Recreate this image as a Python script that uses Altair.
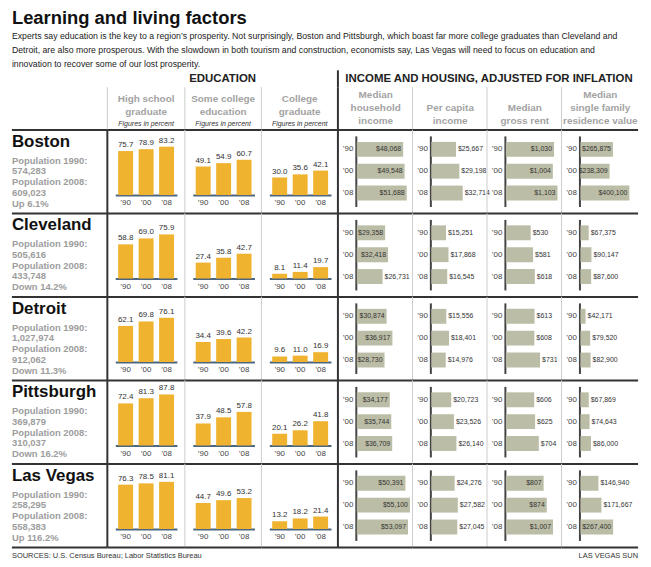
import altair as alt
import pandas as pd

# ---------------- data ----------------
title_text = "Learning and living factors"
intro_lines = [
    "Experts say education is the key to a region’s prosperity. Not surprisingly, Boston and Pittsburgh, which boast far more college graduates than Cleveland and",
    "Detroit, are also more prosperous. With the slowdown in both tourism and construction, economists say, Las Vegas will need to focus on education and",
    "innovation to recover some of our lost prosperity.",
]
section_titles = ["EDUCATION", "INCOME AND HOUSING, ADJUSTED FOR INFLATION"]
edu_headers = [["High school", "graduate"], ["Some college", "education"], ["College", "graduate"]]
edu_note = "Figures in percent"
inc_headers = [["Median", "household", "income"], ["Per capita", "income"],
               ["Median", "gross rent"], ["Median", "single family", "residence value"]]

cities = ["Boston", "Cleveland", "Detroit", "Pittsburgh", "Las Vegas"]
pop_1990 = [574283, 505616, 1027974, 369879, 258295]
pop_2008 = [609023, 433748, 912062, 310037, 558383]
pop_change = [6.1, -14.2, -11.3, -16.2, 116.2]
years = ["’90", "’00", "’08"]

hs_grad = [[75.7, 78.9, 83.2], [58.8, 69.0, 75.9], [62.1, 69.8, 76.1], [72.4, 81.3, 87.8], [76.3, 78.5, 81.1]]
some_college = [[49.1, 54.9, 60.7], [27.4, 35.8, 42.7], [34.4, 39.6, 42.2], [37.9, 48.5, 57.8], [44.7, 49.6, 53.2]]
college_grad = [[30.0, 35.6, 42.1], [8.1, 11.4, 19.7], [9.6, 11.0, 16.9], [20.1, 26.2, 41.8], [13.2, 18.2, 21.4]]

household_income = [[48068, 49548, 51688], [29358, 32418, 26731], [30874, 36917, 28730],
                     [34177, 35744, 36709], [50391, 55100, 53097]]
per_capita_income = [[25667, 29198, 32714], [15251, 17868, 16545], [15556, 18401, 14976],
                     [20723, 23526, 26140], [24276, 27582, 27045]]
gross_rent = [[1030, 1004, 1103], [530, 581, 618], [613, 608, 731], [606, 625, 704], [807, 874, 1007]]
residence_value = [[265875, 238309, 400100], [67375, 90147, 87600], [42171, 79520, 82900],
                   [67869, 74643, 86000], [146940, 171667, 267400]]

source_text = "SOURCES: U.S. Census Bureau; Labor Statistics Bureau"
credit_text = "LAS VEGAS SUN"

# ---------------- style ----------------
SANS = "Liberation Sans, Arial, sans-serif"
GOLD = "#efb330"
KHAKI = "#bcbda6"
DARK = "#333333"
LIGHT = "#cccccc"
EDU_BASE = "#4d6680"
GRAY_TXT = "#a3a3a3"

W_CITY = 96
W_EDU = [78, 77, 77]
W_INC = [75, 75, 75, 77]
WIDTHS = [W_CITY] + W_EDU + W_INC
W_ALL = sum(WIDTHS)
H_TITLE, H_SEC, H_HEAD, H_ROW, H_FOOT = 68, 17, 43, 84, 18
BASE = 65.5  # baseline of education bars inside a row

one = pd.DataFrame({"k": [0]})


def hline(w, color=DARK, width=2):
    return alt.Chart(one).mark_rule(color=color, strokeWidth=width).encode(
        x=alt.value(0), x2=alt.value(w), y=alt.value(0))


def vline(h, color=LIGHT, width=1):
    return alt.Chart(one).mark_rule(color=color, strokeWidth=width).encode(
        x=alt.value(0), y=alt.value(0), y2=alt.value(h))


def label(text, x, y, **kw):
    kw.setdefault("baseline", "middle")
    kw.setdefault("font", SANS)
    return alt.Chart(one).mark_text(**kw).encode(
        x=alt.value(x), y=alt.value(y), text=alt.value(text))


def panel(layers, w, h):
    if not layers:
        layers = [label("", w / 2, h / 2, fontSize=1)]
    return alt.layer(*layers).properties(width=w, height=h)


panels = []

# ---------------- row: title ----------------
t_layers = [label(title_text, 0, 15, align="left", fontSize=18.5,
                  fontWeight="bold", color="#111")]
for j, line in enumerate(intro_lines):
    t_layers.append(label(line, 0, 33 + j * 14.5, align="left", fontSize=8.8, color="#222"))
panels.append(panel(t_layers, W_CITY, H_TITLE))
for w in WIDTHS[1:]:
    panels.append(panel([], w, H_TITLE))

# ---------------- row: section titles ----------------
panels.append(panel([], W_CITY, H_SEC))
panels.append(panel([label(section_titles[0], sum(W_EDU) / 2, 9, align="center",
                           fontSize=11.5, fontWeight="bold", color="#222")], W_EDU[0], H_SEC))
panels.append(panel([], W_EDU[1], H_SEC))
panels.append(panel([], W_EDU[2], H_SEC))
panels.append(panel([vline(H_SEC, DARK, 2),
                     label(section_titles[1], sum(W_INC) / 2 + 1, 9, align="center",
                           fontSize=11.5, fontWeight="bold", color="#222")], W_INC[0], H_SEC))
for w in W_INC[1:]:
    panels.append(panel([], w, H_SEC))

# ---------------- row: column headers ----------------
panels.append(panel([], W_CITY, H_HEAD))
for k, lines in enumerate(edu_headers):
    w = W_EDU[k]
    layers = [vline(H_HEAD, LIGHT, 1)]
    for j, line in enumerate(lines):
        layers.append(label(line, w / 2, 12 + j * 13, align="center",
                            fontSize=10, fontWeight="bold", color=GRAY_TXT))
    layers.append(label(edu_note, w / 2, 37, align="center", fontSize=7,
                        fontStyle="italic", color="#333"))
    panels.append(panel(layers, w, H_HEAD))
for k, lines in enumerate(inc_headers):
    w = W_INC[k]
    layers = [vline(H_HEAD, DARK, 2) if k == 0 else vline(H_HEAD, LIGHT, 1)]
    n = len(lines)
    for j, line in enumerate(lines):
        layers.append(label(line, w / 2 + 0.5, 34 - (n - 1 - j) * 13, align="center",
                            fontSize=10, fontWeight="bold", color=GRAY_TXT))
    panels.append(panel(layers, w, H_HEAD))


# ---------------- data rows ----------------
def city_panel(i):
    ch = pop_change[i]
    lines = ["Population 1990:", f"{pop_1990[i]:,}", "Population 2008:", f"{pop_2008[i]:,}",
             f"{'Up' if ch > 0 else 'Down'} {abs(ch)}%"]
    layers = [hline(W_CITY),
              label(cities[i], 0, 12, align="left", fontSize=17,
                    fontWeight="bold", color="#111")]
    for j, line in enumerate(lines):
        layers.append(label(line, 0, 31 + j * 10.8, align="left", fontSize=9.5,
                            fontWeight="bold", color="#9d9d9d"))
    return panel(layers, W_CITY, H_ROW)


def edu_panel(vals, w, first):
    df = pd.DataFrame({"year": years, "value": vals})
    x = alt.X("year:N", sort=years,
              scale=alt.Scale(domain=years, range=[8, 70], paddingInner=0.27, paddingOuter=0.14),
              axis=alt.Axis(title=None, orient="bottom", offset=-(H_ROW - BASE), domainColor=EDU_BASE,
                            domainWidth=2, ticks=False, labelPadding=4, labelAngle=0,
                            labelFontSize=8, labelFont=SANS, labelColor="#444", grid=False))
    y = alt.Y("value:Q", scale=alt.Scale(domain=[0, 100], range=[BASE, BASE - 58.5]), axis=None)
    bars = alt.Chart(df).mark_bar(color=GOLD).encode(x=x, y=y)
    txt = alt.Chart(df).mark_text(baseline="bottom", dy=-2, fontSize=8, font=SANS, color="#333").encode(
        x=x, y=y, text=alt.Text("value:Q", format=".1f"))
    edge = vline(H_ROW, DARK, 2) if first else vline(H_ROW, LIGHT, 1)
    return panel([hline(w), edge, bars, txt], w, H_ROW)


def inc_panel(vals, w, dmax, inside_min, first):
    df = pd.DataFrame({"year": years, "value": vals})
    x = alt.X("value:Q", scale=alt.Scale(domain=[0, dmax], range=[19, 75], nice=False, zero=True), axis=None)
    y = alt.Y("year:N", sort=years,
              scale=alt.Scale(domain=years, range=[6, 77], paddingInner=0.318, paddingOuter=0.273),
              axis=alt.Axis(title=None, orient="left", offset=-18, domainColor="#444", domainWidth=2,
                            ticks=False, labelPadding=3, labelFontSize=8, labelFont=SANS,
                            labelColor="#444", grid=False))
    bars = alt.Chart(df).mark_bar(color=KHAKI).encode(x=x, y=y)
    txt = alt.Chart(df).encode(x=x, y=y, text=alt.Text("value:Q", format="$,.0f"))
    inside = txt.transform_filter(alt.datum.value >= inside_min).mark_text(
        align="right", dx=-2, fontSize=7, font=SANS, color="#333")
    outside = txt.transform_filter(alt.datum.value < inside_min).mark_text(
        align="left", dx=2, fontSize=7, font=SANS, color="#333")
    edge = vline(H_ROW, DARK, 2) if first else vline(H_ROW, LIGHT, 1)
    return panel([hline(w), edge, bars, inside, outside], w, H_ROW)


edu_sets = [hs_grad, some_college, college_grad]
inc_sets = [(household_income, 57700, 28000), (per_capita_income, 58000, 10 ** 9),
            (gross_rent, 1190, 800), (residence_value, 455000, 200000)]

for i in range(len(cities)):
    panels.append(city_panel(i))
    for k, s in enumerate(edu_sets):
        panels.append(edu_panel(s[i], W_EDU[k], k == 0))
    for k, (s, dmax, thr) in enumerate(inc_sets):
        panels.append(inc_panel(s[i], W_INC[k], dmax, thr, k == 0))

# ---------------- row: footer ----------------
panels.append(panel([hline(W_CITY),
                     label(source_text, 0, 9, align="left", fontSize=7.5, color="#333")],
                    W_CITY, H_FOOT))
for w in WIDTHS[1:-1]:
    panels.append(panel([hline(w)], w, H_FOOT))
panels.append(panel([hline(WIDTHS[-1]),
                     label(credit_text, WIDTHS[-1], 9, align="right", fontSize=7.5, color="#333")],
                    WIDTHS[-1], H_FOOT))

chart = alt.concat(*panels, columns=len(WIDTHS), spacing=0, bounds="flush").properties(
    padding={"left": 10, "top": 0, "right": 11, "bottom": 1}, background="white"
).configure_view(stroke="transparent")

chart.save("out.html", embed_options={"renderer": "svg", "actions": False})
